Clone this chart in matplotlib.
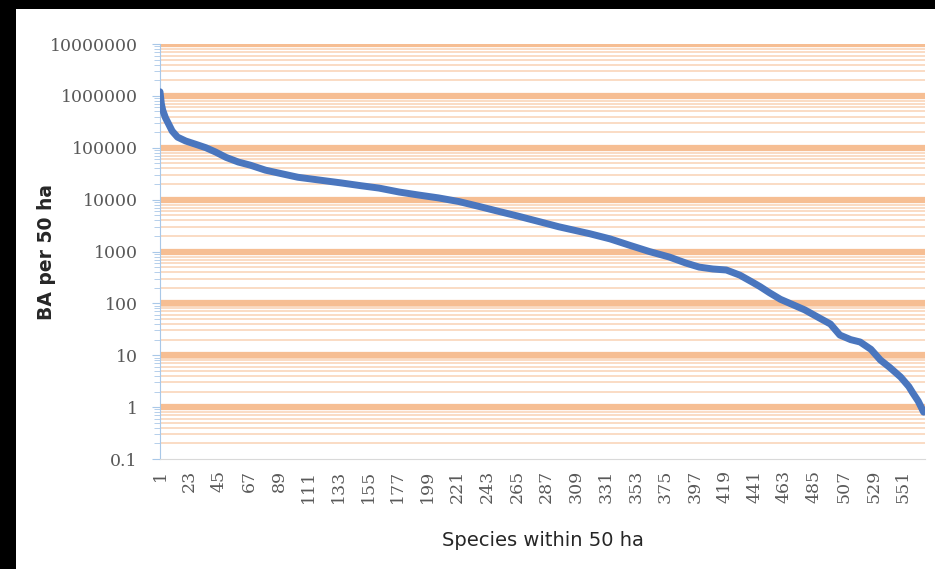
"""
Rank-abundance curve: basal area per species in a 50 ha plot (log scale)
"""
import matplotlib
matplotlib.use("Agg")
import matplotlib.pyplot as plt
from matplotlib.patches import Rectangle

# species rank and basal area per 50 ha
ranks = [1, 2, 3, 5, 7, 10, 14, 20, 29, 35, 42, 50, 59, 68, 79, 90, 103, 118,
         135, 150, 163, 178, 192, 207, 222, 237, 252, 266, 281, 296, 319, 334,
         348, 363, 378, 390, 400, 410, 420, 430, 440, 445, 452, 460, 467, 478,
         489, 497, 504, 512, 519, 527, 534, 541, 549, 555, 558, 562, 566]
ba_values = [1.2e6, 7.0e5, 5.3e5, 3.8e5, 3.0e5, 2.1e5, 1.6e5, 1.35e5, 1.13e5,
             1.0e5, 8.3e4, 6.5e4, 5.3e4, 4.6e4, 3.7e4, 3.2e4, 2.7e4, 2.4e4,
             2.1e4, 1.85e4, 1.67e4, 1.4e4, 1.23e4, 1.08e4, 9.2e3, 7.4e3, 5.9e3,
             4.8e3, 3.8e3, 3.0e3, 2.2e3, 1.75e3, 1.33e3, 1.0e3, 7.8e2, 6.0e2,
             5.0e2, 4.6e2, 4.4e2, 3.5e2, 2.5e2, 2.1e2, 1.6e2, 1.2e2, 1.0e2,
             75, 52, 40, 24.5, 20, 18, 13, 8.1, 5.8, 3.8, 2.5, 1.87, 1.3, 0.8]

n_species = 566
x_ticks = list(range(1, n_species + 1, 22))
y_ticks = [0.1, 1, 10, 100, 1000, 10000, 100000, 1000000, 10000000]
y_labels = ["0.1", "1", "10", "100", "1000", "10000", "100000", "1000000", "10000000"]

fig = plt.figure(figsize=(9.35, 5.69), dpi=100)
fig.patch.set_facecolor("black")
fig.patches.append(Rectangle((16 / 935, 0), 1, 560 / 569, transform=fig.transFigure,
                             facecolor="white", edgecolor="none", zorder=-10))

ax = fig.add_axes([160 / 935, 110 / 569, 765 / 935, 415 / 569])
ax.set_facecolor("white")
ax.plot(ranks, ba_values, color="#4A76BE", lw=5, solid_capstyle="round", zorder=3)

ax.set_yscale("log")
ax.set_ylim(0.1, 1e7)
ax.set_xlim(1, n_species + 1)
ax.set_yticks(y_ticks, y_labels)
ax.set_xticks(x_ticks, [str(t) for t in x_ticks], rotation=90)

# orange gridlines: thick bands at each decade (none on the axis line), thin minors
for yt in y_ticks[1:]:
    ax.axhline(yt, color="#F6BE93", lw=4.5, zorder=1)
ax.grid(which="minor", axis="y", color="#FAD6BA", lw=1.2)
ax.set_axisbelow(True)

for side in ("top", "right"):
    ax.spines[side].set_visible(False)
ax.spines["left"].set_color("#A9C8E8")
ax.spines["bottom"].set_color("#D9D9D9")

ax.tick_params(axis="y", which="major", length=6, color="#A9C8E8", labelsize=12.5,
               labelcolor="#595959", pad=10)
ax.tick_params(axis="y", which="minor", length=4, color="#A9C8E8")
ax.tick_params(axis="x", length=0, labelsize=12.5, labelcolor="#595959", pad=8)
for lbl in ax.get_xticklabels() + ax.get_yticklabels():
    lbl.set_family("DejaVu Serif")

ax.set_xlabel("Species within 50 ha", fontsize=14, color="#262626", labelpad=20)
ax.set_ylabel("BA per 50 ha", fontsize=13.5, fontweight="bold", color="#262626")
ax.yaxis.set_label_coords(-104 / 765, 0.5)

fig.savefig("out.png", dpi=100, facecolor=fig.get_facecolor())
plt.close(fig)
